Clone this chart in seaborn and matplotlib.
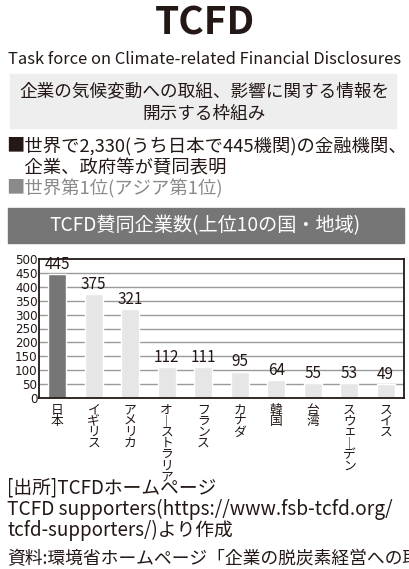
import matplotlib
matplotlib.use("Agg")
import matplotlib.pyplot as plt
import seaborn as sns
import pandas as pd
from matplotlib.patches import Rectangle

countries = ["日本", "イギリス", "アメリカ", "オーストラリア", "フランス",
             "カナダ", "韓国", "台湾", "スウェーデン", "スイス"]
supporters = [445, 375, 321, 112, 111, 95, 64, 55, 53, 49]
y_ticks = [0, 50, 100, 150, 200, 250, 300, 350, 400, 450, 500]

DARK = "#767676"
LIGHT = "#e6e6e6"
INK = "#231815"
W, H = 409, 569

sns.set_theme(style="white")
plt.rcParams["font.family"] = ["Noto Sans CJK JP", "DejaVu Sans"]

fig = plt.figure(figsize=(W / 100, H / 100), dpi=100)


def ftext(x, y, s, **kw):
    # place text in pixel coords (origin top-left)
    fig.text(x / W, 1 - y / H, s, **kw)


def fbox(x0, y0, x1, y1, color):
    fig.patches.append(Rectangle((x0 / W, 1 - y1 / H), (x1 - x0) / W, (y1 - y0) / H,
                                 transform=fig.transFigure, color=color, zorder=0))


# header
ftext(W / 2, 23, "TCFD", ha="center", va="center", fontsize=28, fontweight="bold", color=INK)
ftext(W / 2, 59, "Task force on Climate-related Financial Disclosures",
      ha="center", va="center", fontsize=11.9, color=INK)

fbox(10, 74, 396, 128, "#eeeeee")
ftext(W / 2, 91, "企業の気候変動への取組、影響に関する情報を", ha="center", va="center",
      fontsize=12.7, color=INK)
ftext(W / 2, 114, "開示する枠組み", ha="center", va="center", fontsize=12.7, color=INK)

ftext(6, 146, "■世界で2,330(うち日本で445機関)の金融機関、", ha="left", va="center",
      fontsize=13.2, color=INK)
ftext(6, 168, "　企業、政府等が賛同表明", ha="left", va="center", fontsize=13.2, color=INK)
ftext(6, 189, "■世界第1位(アジア第1位)", ha="left", va="center", fontsize=13.2, color="#8a8a8a")

fbox(8, 208, 404, 243, DARK)
ftext(W / 2, 226, "TCFD賛同企業数(上位10の国・地域)", ha="center", va="center",
      fontsize=13.8, color="white")

# chart
ax = fig.add_axes([39 / W, 1 - 398 / H, 365 / W, 139 / H])
df = pd.DataFrame({"country": countries, "count": supporters})
palette = [DARK] + [LIGHT] * (len(countries) - 1)
sns.barplot(data=df, x="country", y="count", hue="country", palette=palette,
            legend=False, width=0.5, ax=ax, zorder=2, saturation=1)

ax.set_ylim(0, 500)
ax.set_xlim(-0.5, len(countries) - 0.5)
ax.set_yticks(y_ticks)
ax.set_yticklabels([str(t) for t in y_ticks], fontsize=8.6, color=INK, family="DejaVu Sans")
for t in y_ticks[1:-1]:
    ax.axhline(t, color="#9a9a9a", lw=1, zorder=1)

labels = ["\n".join(c.replace("ー", "｜")) for c in countries]
ax.set_xticks(range(len(countries)))
ax.set_xticklabels(labels, fontsize=9.2, linespacing=0.82, va="top", color=INK)
ax.tick_params(axis="both", length=0, pad=1)
ax.tick_params(axis="x", pad=4)
ax.set_xlabel("")
ax.set_ylabel("")

for i, v in enumerate(supporters):
    ax.text(i, v + 4, str(v), ha="center", va="bottom", fontsize=11, color=INK)

for sp in ax.spines.values():
    sp.set_color(INK)
    sp.set_linewidth(1.3)

# source
ftext(7, 488, "[出所]TCFDホームページ", ha="left", va="center", fontsize=13.5, color=INK)
ftext(7, 509, "TCFD supporters(https://www.fsb-tcfd.org/", ha="left", va="center",
      fontsize=13.8, color=INK)
ftext(7, 530, "tcfd-supporters/)より作成", ha="left", va="center", fontsize=13.5, color=INK)
ftext(7, 559, "資料:環境省ホームページ「企業の脱炭素経営への取組状況」", ha="left", va="center",
      fontsize=12.8, color=INK)

fig.savefig("out.png", dpi=100)
